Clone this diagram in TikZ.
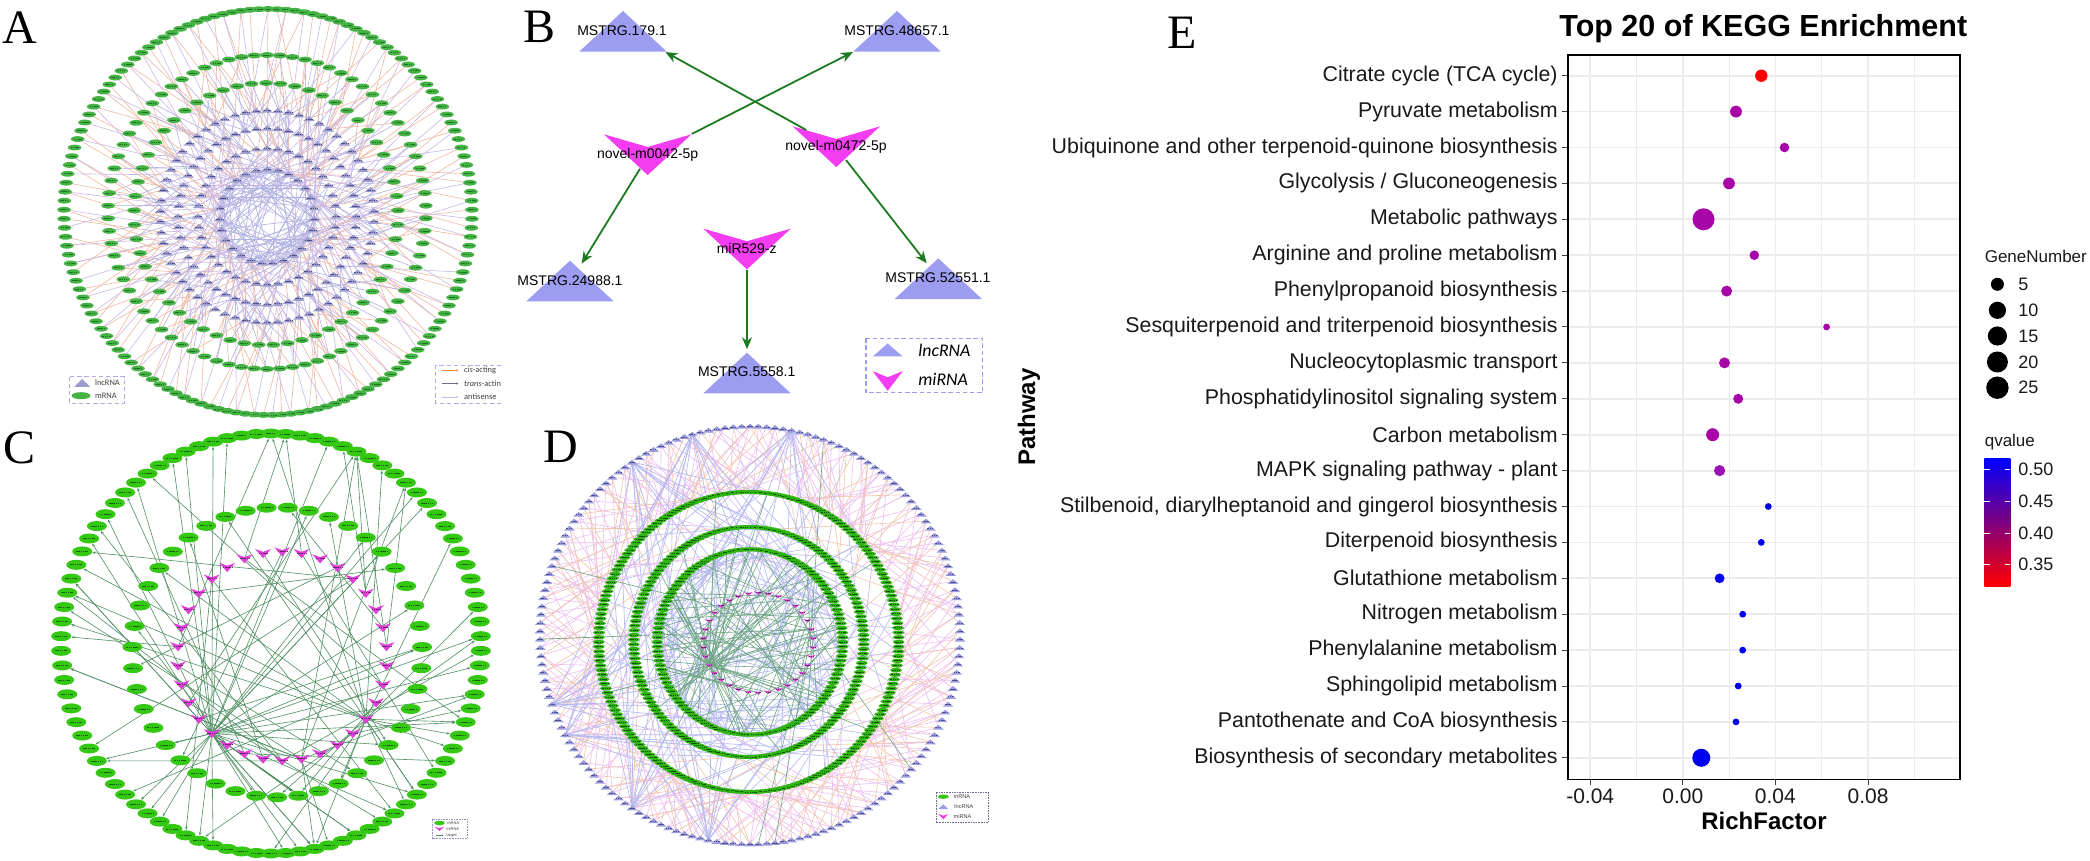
\documentclass[tikz,border=0pt]{standalone}
\usepackage{fontspec}
\setmainfont{Liberation Sans}
\newfontfamily\serifletter{Liberation Serif}
\newfontfamily\carlito{Carlito}
\usetikzlibrary{shapes.geometric,arrows.meta}
\pgfdeclarelayer{under}
\pgfsetlayers{under,main}
\definecolor{mrnaA}{HTML}{45B445}
\definecolor{mrnaC}{HTML}{35C812}
\definecolor{mrnaD}{HTML}{2FB512}
\definecolor{lncA}{HTML}{9C9CCE}
\definecolor{lncB}{HTML}{9C9CF0}
\definecolor{lncD}{HTML}{9A9ADE}
\definecolor{miB}{HTML}{F43CF0}
\definecolor{miC}{HTML}{E23CDC}
\definecolor{dashbox}{HTML}{B9A6EE}
\definecolor{edgeB}{HTML}{1C7A20}
\definecolor{orangeE}{HTML}{EFB8A0}
\definecolor{mauveE}{HTML}{CBB8E6}
\definecolor{blueE}{HTML}{B0B2E2}
\definecolor{pinkD}{HTML}{EDBDEE}
\definecolor{orangeD}{HTML}{F2C4A6}
\definecolor{blueD}{HTML}{B4B8F0}
\definecolor{greenD}{HTML}{6BA57F}
\definecolor{greenC}{HTML}{4F8F62}
\definecolor{gridE}{HTML}{EBEBEB}
\definecolor{dotred}{HTML}{FF0000}
\definecolor{dotmag}{HTML}{A805A8}
\definecolor{dotpur}{HTML}{9A12B4}
\definecolor{dotblue}{HTML}{0000F0}
\definecolor{smA}{HTML}{1E6E2A}
\definecolor{smC}{HTML}{14640A}
\definecolor{smD}{HTML}{104F08}
\definecolor{smL}{HTML}{50508C}
\definecolor{smM}{HTML}{6A2A6A}
\tikzset{
  x=0.5pt,y=-0.5pt,
  smudgeA/.style={draw=#1,line width=.4pt,dash pattern=on .8pt off .3pt},
  mrnanode/.style n args={4}{shape=ellipse,inner sep=0pt,fill=#3,minimum width=#1,minimum height=#2,
    path picture={\draw[smudgeA=#4] ([xshift=-.3*#1]path picture bounding box.center) -- ([xshift=.3*#1]path picture bounding box.center);}},
  lncnode/.style n args={4}{shape=rectangle,inner sep=0pt,minimum width=#1,minimum height=#2,
    path picture={\fill[#3] (path picture bounding box.south west) -- (path picture bounding box.north) -- (path picture bounding box.south east) -- cycle;
      \draw[smudgeA=#4] ([xshift=-.28*#1,yshift=-.1*#2]path picture bounding box.center) -- ([xshift=.28*#1,yshift=-.1*#2]path picture bounding box.center);}},
  minode/.style n args={4}{shape=rectangle,inner sep=0pt,minimum width=#1,minimum height=#2,
    path picture={\fill[#3] (path picture bounding box.north west) -- ([yshift=-.31*#2]path picture bounding box.north) -- (path picture bounding box.north east) -- (path picture bounding box.south) -- cycle;
      \draw[smudgeA=#4] ([xshift=-.28*#1,yshift=.05*#2]path picture bounding box.center) -- ([xshift=.28*#1,yshift=.05*#2]path picture bounding box.center);}},
  bigtri/.style={shape=rectangle,inner sep=0pt,minimum width=43.7pt,minimum height=20.35pt,
    path picture={\fill[lncB] (path picture bounding box.south west) -- (path picture bounding box.north) -- (path picture bounding box.south east) -- cycle;}},
  bigvee/.style={shape=rectangle,inner sep=0pt,minimum width=43.7pt,minimum height=20.35pt,
    path picture={\fill[miB] (path picture bounding box.north west) -- ([yshift=-6.3pt]path picture bounding box.north) -- (path picture bounding box.north east) -- (path picture bounding box.south) -- cycle;}},
  smalltri/.style 2 args={shape=rectangle,inner sep=0pt,minimum width=#1,minimum height=#2,
    path picture={\fill[lncB] (path picture bounding box.south west) -- (path picture bounding box.north) -- (path picture bounding box.south east) -- cycle;}},
  smallvee/.style 2 args={shape=rectangle,inner sep=0pt,minimum width=#1,minimum height=#2,
    path picture={\fill[miB] (path picture bounding box.north west) -- ([yshift=-.31*#2]path picture bounding box.north) -- (path picture bounding box.north east) -- (path picture bounding box.south) -- cycle;}},
  blabel/.style={inner sep=0pt,font=\fontsize{7}{8}\selectfont},
  bedge/.style={draw=edgeB,line width=.9pt,-{Stealth[length=6pt,width=5pt]}},
  letter/.style={anchor=base west,inner sep=0pt,font=\serifletter\fontsize{24}{24}\selectfont},
  legtxt/.style={anchor=west,inner sep=0pt,text=black!75,font=\carlito\fontsize{4.2}{5}\selectfont},
  legbox/.style={draw=dashbox,line width=.55pt,dash pattern=on 2.2pt off 1.4pt},
  eA/.style={draw=#1,line width=.3pt},
  eC/.style={draw=greenC,line width=.3pt,-{Stealth[length=1.6pt,width=1.3pt]}},
  rowlab/.style={anchor=east,inner sep=0pt,font=\fontsize{10.68}{12}\selectfont,text=black!90},
  ticklab/.style={inner sep=0pt,font=\fontsize{10.5}{12}\selectfont,text=black!90},
  leglab/.style={anchor=west,inner sep=0pt,font=\fontsize{9}{11}\selectfont,text=black!90},
  axtitle/.style={inner sep=0pt,font=\bfseries\fontsize{12}{14}\selectfont},
}
% rings of nodes
\newcommand\ringnodes[8]{%
  \foreach \k in {1,...,#6}{%
    \pgfmathsetmacro\ang{-90+360/#6*(\k-1+#7)}%
    \node[#8] (#1\k) at ({#2+#4*cos(\ang)},{#3+#5*sin(\ang)}) {};%
  }}
% links between two rings: src, Ns, dst, Nd, count, spread, style
\newcommand\linkrand[7]{%
  \foreach \k in {1,...,#5}{%
    \pgfmathtruncatemacro\isrc{1+(\k-1)/#5*#2}%
    \pgfmathtruncatemacro\jdst{Mod(round((\isrc-1)/#2*#4+rand*#6),#4)+1}%
    \draw[#7] (#1\isrc.center) -- (#3\jdst.center);%
  }}
% fan from one node to random nodes of a ring: srcnode, dst, Nd, count, style
\newcommand\fanout[5]{%
  \foreach \k in {1,...,#4}{%
    \pgfmathtruncatemacro\jdst{random(1,#3)}%
    \draw[#5] (#1.center) -- (#2\jdst);%
  }}
\newcommand\fancenter[5]{%
  \foreach \k in {1,...,#4}{%
    \pgfmathtruncatemacro\jdst{random(1,#3)}%
    \draw[#5] (#1.center) -- (#2\jdst.center);%
  }}
% one row of the dot plot: id, label, x, radius, colour
\newcommand\erow[5]{%
  \pgfmathsetmacro\rowy{75.7+35.9*#1}%
  \draw[black!75,line width=.5pt] (1562,\rowy) -- (1568,\rowy);
  \node[rowlab] (rlab#1) at (1558,\rowy) {#2};
  \fill[#5] (#3,\rowy) circle[radius=#4];
}
\begin{document}
\begin{tikzpicture}
\pgfmathsetseed{2024}
\useasboundingbox (0,0) rectangle (2090,861);
\begin{pgfonlayer}{under}
\fill[white] (0,0) rectangle (2090,861);
\end{pgfonlayer}

% ---------- panel letters
\node[letter] (letA) at (2,43.5) {A};
\node[letter] (letB) at (523,43) {B};
\node[letter] (letC) at (3,463.5) {C};
\node[letter] (letD) at (543,463) {D};
\node[letter] (letE) at (1167,49) {E};

% ---------- panel A
\ringnodes{Aa}{268}{212}{204}{203}{141}{0}{mrnanode={6.75pt}{2.9pt}{mrnaA}{smA}}
\ringnodes{Ab}{267}{212}{159}{157}{78}{0}{mrnanode={6.75pt}{2.9pt}{mrnaA}{smA}}
\ringnodes{Ac}{266}{214}{132}{131}{57}{0}{mrnanode={6.75pt}{2.9pt}{mrnaA}{smA}}
\ringnodes{Ad}{267}{216}{107}{106}{62}{0}{lncnode={6pt}{2.6pt}{lncA}{smL}}
\ringnodes{Ae}{267}{216}{89}{88}{52}{0}{lncnode={6pt}{2.6pt}{lncA}{smL}}
\ringnodes{Af}{267}{216}{69}{68}{40}{0}{lncnode={6pt}{2.6pt}{lncA}{smL}}
\ringnodes{Ag}{267}{216}{47.5}{47}{27}{0}{lncnode={6pt}{2.6pt}{lncA}{smL}}
\begin{pgfonlayer}{under}
\linkrand{Aa}{141}{Ad}{62}{95}{3.5}{eA=orangeE}
\linkrand{Aa}{141}{Ae}{52}{70}{3}{eA=mauveE}
\linkrand{Ab}{78}{Ad}{62}{50}{4}{eA=orangeE}
\linkrand{Ab}{78}{Af}{40}{50}{3}{eA=blueE}
\linkrand{Ac}{57}{Ae}{52}{50}{4}{eA=blueE}
\linkrand{Ac}{57}{Ag}{27}{35}{2}{eA=orangeE}
\linkrand{Ad}{62}{Af}{40}{62}{3}{eA=mauveE}
\linkrand{Ae}{52}{Ag}{27}{52}{3}{eA=orangeE}
\linkrand{Af}{40}{Ag}{27}{60}{5}{eA=blueE}
\linkrand{Af}{40}{Af}{40}{30}{20}{eA=mauveE}
\linkrand{Ag}{27}{Ag}{27}{120}{13}{eA=blueE}
\linkrand{Ad}{62}{Ag}{27}{60}{7}{eA=mauveE}
\end{pgfonlayer}
% legends of A
\draw[legbox] (69.3,376.7) rectangle (124.4,403.3);
\node[lncnode={8pt}{4pt}{lncA}{lncA}] (lAtri) at (82,383) {};
\node[mrnanode={9.5pt}{3.5pt}{mrnaA}{mrnaA}] (lAell) at (81,395.7) {};
\node[legtxt] (lAt1) at (94.7,383) {lncRNA};
\node[legtxt] (lAt2) at (94.7,395.7) {mRNA};
\draw[legbox] (501.4,365.7) -- (435.4,365.7) -- (435.4,403.3) -- (501.4,403.3);
\coordinate (lA1a) at (441.5,370.5); \coordinate (lA1b) at (458.5,370.5);
\coordinate (lA2a) at (441.5,383.5); \coordinate (lA2b) at (458.5,383.5);
\coordinate (lA3a) at (441.5,397); \coordinate (lA3b) at (458.5,397);
\draw[draw=orange!70!red!70,line width=.35pt,-{Stealth[length=1.3pt,width=1.1pt]}] (lA1a) -- (lA1b);
\draw[draw=lncA!70!black,line width=.35pt,-{Stealth[length=1.3pt,width=1.1pt]}] (lA2a) -- (lA2b);
\draw[draw=mauveE,line width=.35pt,-{Stealth[length=1.3pt,width=1.1pt]}] (lA3a) -- (lA3b);
\node[legtxt] (lAt3) at (463.8,370.5) {\itshape cis\upshape-acting};
\node[legtxt] (lAt4) at (463.8,383.5) {\itshape trans\upshape-actin};
\node[legtxt] (lAt5) at (463.8,397) {antisense};

% ---------- panel B
\node[bigtri] (t179) at (623,31.3) {};
\node[bigtri] (t48657) at (897,31.3) {};
\node[bigtri] (t24988) at (570,281) {};
\node[bigtri] (t52551) at (938.3,278.7) {};
\node[bigtri] (t5558) at (747,373) {};
\node[bigvee] (v0042) at (647.7,154.7) {};
\node[bigvee] (v0472) at (836.3,146.7) {};
\node[bigvee] (v529) at (747,249) {};
\node[blabel] (nt179) at (622,30.5) {MSTRG.179.1};
\node[blabel] (nt48657) at (897,30.5) {MSTRG.48657.1};
\node[blabel] (nt24988) at (570,280.5) {MSTRG.24988.1};
\node[blabel] (nt52551) at (938,278) {MSTRG.52551.1};
\node[blabel] (nt5558) at (746.7,372) {MSTRG.5558.1};
\node[blabel] (nv0042) at (647.7,154.7) {novel-m0042-5p};
\node[blabel] (nv0472) at (836,147) {novel-m0472-5p};
\node[blabel] (nv529) at (746.7,248.7) {miR529-z};
\draw[bedge] (v0042.north east) -- (t48657.south west);
\draw[bedge] ([xshift=7pt,yshift=-2pt]v0472.north west) -- ([xshift=-.8pt]t179.south east);
\draw[bedge] ([xshift=-3.85pt,yshift=3.35pt]v0042.south) -- ([xshift=5.85pt,yshift=-1.65pt]t24988.north);
\draw[bedge] ([xshift=4.85pt,yshift=3.7pt]v0472.south) -- ([xshift=-5.8pt,yshift=-2.65pt]t52551.north);
\draw[bedge] (v529.south) -- ([yshift=1.5pt]t5558.north);
\draw[legbox,draw=lncB] (866,338.3) rectangle (982.7,392.7);
\node[smalltri={15pt}{6.5pt}] (lBtri) at (887.7,350) {};
\node[smallvee={15pt}{9.8pt}] (lBvee) at (887.7,381) {};
\node[anchor=west,inner sep=0pt,font=\carlito\itshape\fontsize{8.9}{10}\selectfont] (lBt1) at (918,350) {lncRNA};
\node[anchor=west,inner sep=0pt,font=\carlito\itshape\fontsize{8.9}{10}\selectfont] (lBt2) at (918,379) {miRNA};

% ---------- panel C
\ringnodes{Ca}{271}{643.5}{210}{210}{90}{0}{mrnanode={10pt}{5pt}{mrnaC}{smC}}
\ringnodes{Cb}{277.2}{652.3}{145}{145}{43}{.5}{mrnanode={10pt}{5pt}{mrnaC}{smC}}
\ringnodes{Cc}{282.3}{656.3}{104.7}{104.5}{34}{0}{minode={8pt}{4.6pt}{miC}{smM}}
\begin{pgfonlayer}{under}
\fanout{Cc22}{Ca}{90}{30}{eC}
\fanout{Cc22}{Cb}{43}{10}{eC}
\fanout{Cc13}{Ca}{90}{16}{eC}
\fanout{Cc13}{Cb}{43}{5}{eC}
\fanout{Cc17}{Ca}{90}{8}{eC}
\fanout{Cc18}{Ca}{90}{4}{eC}
\foreach \m in {2,5,6,9,11,14,20,24,27,31,33}{%
  \fanout{Cc\m}{Ca}{90}{2}{eC}
}
\foreach \m in {1,4,8,12,19,21,23,26,30,34}{%
  \fanout{Cc\m}{Cb}{43}{1}{eC}
}
\end{pgfonlayer}
\draw[draw=blueD!80!black,line width=.3pt,dash pattern=on .8pt off .5pt] (432.7,819) rectangle (467.2,838.7);
\node[mrnanode={5.5pt}{2.2pt}{mrnaC}{mrnaC}] (lCell) at (439.5,823) {};
\node[minode={4.5pt}{2.2pt}{miC}{miC}] (lCvee) at (439.5,829) {};
\coordinate (lCa) at (435.5,835.3); \coordinate (lCb) at (443.5,835.3);
\draw[draw=greenC,line width=.2pt,-{Stealth[length=.8pt,width=.7pt]}] (lCa) -- (lCb);
\node[legtxt,font=\fontsize{2}{3}\selectfont] (lCt1) at (447,823) {mRNA};
\node[legtxt,font=\fontsize{2}{3}\selectfont] (lCt2) at (446,829) {miRNA};
\node[legtxt,font=\fontsize{2}{3}\selectfont] (lCt3) at (446,835.3) {target};

% ---------- panel D
\ringnodes{Da}{750}{635}{210}{209}{158}{0}{lncnode={5.5pt}{2.4pt}{lncD}{smL}}
\ringnodes{Db}{748.7}{642}{150}{150}{200}{0}{mrnanode={6pt}{2.1pt}{mrnaD}{smD}}
\ringnodes{Dc}{748.7}{642}{115}{115}{154}{0}{mrnanode={6pt}{2.1pt}{mrnaD}{smD}}
\ringnodes{Dd}{750}{642}{92.7}{92.7}{124}{0}{mrnanode={6pt}{2.1pt}{mrnaD}{smD}}
\ringnodes{De}{758.3}{643}{55}{50}{34}{0}{minode={4.5pt}{1.8pt}{miC}{smM}}
\begin{pgfonlayer}{under}
\linkrand{Da}{158}{Db}{200}{158}{14}{eA=pinkD}
\linkrand{Da}{158}{Db}{200}{130}{26}{eA=pinkD}
\linkrand{Da}{158}{Db}{200}{80}{24}{eA=orangeD}
\linkrand{Da}{158}{Dc}{154}{50}{25}{eA=orangeD}
\foreach \h in {144,152,6,111,107,85,95}{%
  \fancenter{Da\h}{Db}{200}{5}{draw=blueD,line width=.33pt}
  \fancenter{Da\h}{Dc}{154}{4}{draw=blueD,line width=.33pt}
  \fancenter{Da\h}{Dd}{124}{3}{draw=blueD,line width=.33pt}
}
\linkrand{Db}{200}{Dc}{154}{50}{25}{eA=blueD}
\linkrand{Dc}{154}{Dd}{124}{50}{30}{eA=blueD}
\linkrand{Dd}{124}{Dd}{124}{60}{60}{eA=blueD}
\linkrand{Dd}{124}{Db}{200}{30}{50}{eA=pinkD}
\fancenter{De24}{Dd}{124}{24}{draw=greenD,line width=.3pt}
\fancenter{De24}{Dc}{154}{10}{draw=greenD,line width=.3pt}
\fancenter{De24}{Db}{200}{5}{draw=greenD,line width=.3pt}
\foreach \m in {1,...,34}{%
  \fancenter{De\m}{Dd}{124}{2}{draw=greenD,line width=.3pt}
}
\fancenter{De8}{Da}{158}{6}{draw=greenD,line width=.3pt}
\end{pgfonlayer}
\draw[draw=blueD!60!black,line width=.3pt,dash pattern=on .8pt off .5pt] (936,792.3) rectangle (988.3,822.7);
\node[mrnanode={5.5pt}{2.2pt}{mrnaC}{mrnaC}] (lDell) at (943.3,796.7) {};
\node[lncnode={5pt}{2.4pt}{lncB}{lncB}] (lDtri) at (943.3,806.7) {};
\node[minode={5pt}{2.6pt}{miB}{miB}] (lDvee) at (943.3,816.7) {};
\node[legtxt,font=\fontsize{2.8}{3.5}\selectfont] (lDt1) at (953.3,796.7) {mRNA};
\node[legtxt,font=\fontsize{2.8}{3.5}\selectfont] (lDt2) at (954,806.7) {lncRNA};
\node[legtxt,font=\fontsize{2.8}{3.5}\selectfont] (lDt3) at (953.3,816.7) {miRNA};

% ---------- panel E: grid
\foreach \gx in {1636.5,1729.4,1821.3,1914.3}{\draw[gridE,line width=.5pt] (\gx,55) -- (\gx,779.3);}
\foreach \gx in {1590.2,1682.8,1775.4,1868}{\draw[gridE,line width=.9pt] (\gx,55) -- (\gx,779.3);}
\foreach \r in {0,...,19}{\pgfmathsetmacro\gy{75.7+35.9*\r}\draw[gridE,line width=.9pt] (1568,\gy) -- (1960,\gy);}
\erow{0}{Citrate cycle (TCA cycle)}{1761.3}{6.2}{dotred}
\erow{1}{Pyruvate metabolism}{1736}{5.9}{dotmag}
\erow{2}{Ubiquinone and other terpenoid-quinone biosynthesis}{1784.5}{4.8}{dotmag}
\erow{3}{Glycolysis / Gluconeogenesis}{1729}{5.9}{dotmag}
\erow{4}{Metabolic pathways}{1703.5}{11}{dotmag}
\erow{5}{Arginine and proline metabolism}{1754.3}{4.8}{dotmag}
\erow{6}{Phenylpropanoid biosynthesis}{1726.6}{5.5}{dotmag}
\erow{7}{Sesquiterpenoid and triterpenoid biosynthesis}{1826.6}{3.4}{dotmag}
\erow{8}{Nucleocytoplasmic transport}{1724.5}{5.5}{dotmag}
\erow{9}{Phosphatidylinositol signaling system}{1738.2}{5}{dotmag}
\erow{10}{Carbon metabolism}{1712.6}{6.5}{dotmag}
\erow{11}{MAPK signaling pathway - plant}{1719.6}{5.6}{dotpur}
\erow{12}{Stilbenoid, diarylheptanoid and gingerol biosynthesis}{1768.3}{3.4}{dotblue}
\erow{13}{Diterpenoid biosynthesis}{1761.3}{3.4}{dotblue}
\erow{14}{Glutathione metabolism}{1719.6}{4.9}{dotblue}
\erow{15}{Nitrogen metabolism}{1742.7}{3.4}{dotblue}
\erow{16}{Phenylalanine metabolism}{1742.7}{3.4}{dotblue}
\erow{17}{Sphingolipid metabolism}{1738.2}{3.4}{dotblue}
\erow{18}{Pantothenate and CoA biosynthesis}{1736}{3.4}{dotblue}
\erow{19}{Biosynthesis of secondary metabolites}{1701.3}{9}{dotblue}
\draw[black,line width=.75pt] (1568,55) rectangle (1960,779.3);
\foreach \gx/\lab in {1590.2/-0.04,1682.8/0.00,1775.4/0.04,1868/0.08}{%
  \draw[black!75,line width=.5pt] (\gx,779.3) -- (\gx,785);
  \node[ticklab] (xt\lab) at (\gx,796) {\lab};
}
\node[inner sep=0pt,font=\bfseries\fontsize{15.25}{18}\selectfont] (etitle) at (1763.3,29) {Top 20 of KEGG Enrichment};
\node[axtitle,rotate=90] (eylab) at (1029,417) {Pathway};
\node[axtitle] (exlab) at (1764,821) {RichFactor};
% size legend
\node[anchor=west,inner sep=0pt,font=\fontsize{8.5}{10}\selectfont,text=black!90] (gnt) at (1984.4,256) {GeneNumber};
\foreach \yy/\rr/\lab in {284.3/6.5/5,310.3/8.6/10,336/9.6/15,362/10.5/20,387.7/11.2/25}{%
  \fill[black] (1997.4,\yy) circle[radius=\rr];
  \node[leglab] (gn\lab) at (2018,\yy) {\lab};
}
% colour legend
\node[anchor=west,inner sep=0pt,font=\fontsize{8.5}{10}\selectfont,text=black!90] (qvt) at (1984.4,442.3) {qvalue};
\shade[top color=blue,bottom color=red] (1984.4,458) rectangle (2010.4,586.7);
\foreach \yy/\lab in {469.3/0.50,501/0.45,533/0.40,564.7/0.35}{%
  \draw[white,line width=.4pt] (1984.4,\yy) -- (1989.6,\yy);
  \draw[white,line width=.4pt] (2005.2,\yy) -- (2010.4,\yy);
  \node[leglab] (qv\lab) at (2018,\yy) {\lab};
}
\end{tikzpicture}
\end{document}
